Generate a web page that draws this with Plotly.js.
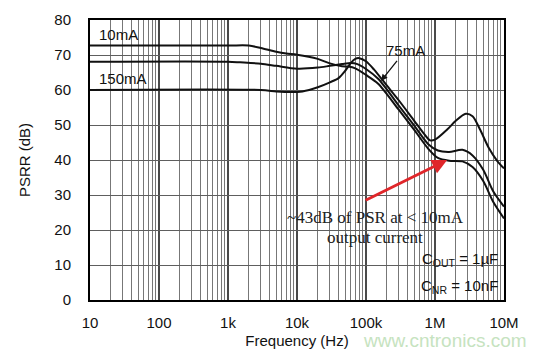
<!DOCTYPE html>
<html>
<head>
<meta charset="utf-8">
<script src="https://cdn.plot.ly/plotly-3.0.1.min.js"></script>
<style>
  html, body { margin: 0; padding: 0; background: #ffffff; }
  #chart { width: 550px; height: 356px; }
</style>
</head>
<body>
<div id="chart"></div>
<script>
// ---- data ----
const freq10 = [10, 1000, 2000, 3000, 5000, 7000, 10000, 20000, 30000, 45000, 55000, 70000, 100000, 150000, 300000, 500000, 800000, 1100000, 1600000, 2500000, 3500000, 5000000, 7000000, 10000000];
const psrr10 = [72.7, 72.7, 72.7, 72.0, 70.9, 70.4, 70.1, 68.9, 67.6, 66.8, 66.7, 66.2, 64.3, 61.8, 54.3, 48.6, 43.2, 40.6, 39.8, 39.6, 38.0, 34.0, 28.0, 23.3];

const freq75 = [10, 1000, 1500, 3000, 5000, 10000, 20000, 30000, 45000, 60000, 75000, 100000, 150000, 300000, 500000, 800000, 1100000, 1600000, 2500000, 3500000, 5000000, 7000000, 10000000];
const psrr75 = [68.1, 68.1, 67.9, 67.5, 66.9, 66.1, 66.4, 66.9, 67.4, 67.7, 67.4, 66.0, 63.2, 55.5, 49.8, 44.5, 42.7, 42.3, 42.9, 41.3, 37.2, 31.0, 26.7];

const freq150 = [10, 3000, 5000, 8000, 12000, 20000, 30000, 40000, 50000, 60000, 70000, 80000, 100000, 130000, 200000, 300000, 500000, 700000, 850000, 1000000, 1500000, 2000000, 2800000, 3500000, 4500000, 6000000, 8000000, 10000000];
const psrr150 = [60, 60, 59.6, 59.4, 59.6, 60.8, 62.2, 63.4, 65.5, 67.7, 68.9, 69.1, 68.2, 65.9, 61.3, 57.0, 51.2, 47.4, 45.6, 45.8, 48.7, 51.2, 53.2, 52.5, 48.7, 43.5, 39.7, 37.6];

const seriesNames = ["10mA", "75mA", "150mA"];
const xTickVals = [10, 100, 1000, 10000, 100000, 1000000, 10000000];
const xTickText = ["10", "100", "1k", "10k", "100k", "1M", "10M"];
const yTickVals = [0, 10, 20, 30, 40, 50, 60, 70, 80];

// minor (2..9) positions per decade
const minorVals = [];
for (let d = 1; d < 7; d++) {
  for (let m = 2; m <= 9; m++) minorVals.push(m * Math.pow(10, d));
}

const lineStyle = { color: "#111111", width: 2, shape: "spline", smoothing: 0.8 };
const traces = [
  { x: freq10, y: psrr10, name: seriesNames[0], mode: "lines", line: lineStyle },
  { x: freq75, y: psrr75, name: seriesNames[1], mode: "lines", line: lineStyle },
  { x: freq150, y: psrr150, name: seriesNames[2], mode: "lines", line: lineStyle }
];

const sans = "Liberation Sans, Arial, sans-serif";
const serif = "Liberation Serif, Times New Roman, serif";

const layout = {
  width: 550, height: 356,
  margin: { l: 90, r: 46, t: 20, b: 56 },
  paper_bgcolor: "#ffffff",
  plot_bgcolor: "#ffffff",
  showlegend: false,
  font: { family: sans, size: 15, color: "#111111" },
  xaxis: {
    type: "log",
    range: [1, 7],
    tickmode: "array",
    tickvals: xTickVals,
    ticktext: xTickText,
    ticks: "",
    ticklabelstandoff: 8,
    showgrid: true,
    gridcolor: "#4a4a4a",
    gridwidth: 2,
    showline: true,
    linecolor: "#000000",
    linewidth: 2,
    mirror: true,
    zeroline: false,
    minor: { tickvals: minorVals, showgrid: true, gridcolor: "#777777", gridwidth: 1, ticks: "" },
    title: { text: "Frequency (Hz)", font: { family: sans, size: 15 }, standoff: 5 }
  },
  yaxis: {
    range: [0, 80],
    tickmode: "array",
    tickvals: yTickVals,
    ticks: "",
    ticklabelstandoff: 14,
    showgrid: true,
    gridcolor: "#5e5e5e",
    gridwidth: 1,
    showline: true,
    linecolor: "#000000",
    linewidth: 2,
    mirror: true,
    zeroline: false,
    title: { text: "PSRR (dB)", font: { family: sans, size: 15 }, standoff: 20 }
  },
  shapes: [
    { type: "rect", xref: "paper", yref: "paper", layer: "between",
      x0: 0.783, x1: 0.995, y0: 0.015, y1: 0.19,
      fillcolor: "#ffffff", line: { width: 0 } }
  ],
  annotations: [
    { text: "10mA", xref: "paper", yref: "paper", x: 0.017, y: 0.947, xanchor: "left", yanchor: "middle", showarrow: false, font: { family: sans, size: 15 } },
    { text: "150mA", xref: "paper", yref: "paper", x: 0.017, y: 0.79, xanchor: "left", yanchor: "middle", showarrow: false, font: { family: sans, size: 15 } },
    { text: "75mA", xref: "x", yref: "y", x: Math.log10(165000), y: 62.6, ax: 24, ay: -30,
      showarrow: true, arrowhead: 2, arrowsize: 1, arrowwidth: 1.3, arrowcolor: "#111111", font: { family: sans, size: 15 } },
    { text: " ", xref: "x", yref: "y", x: Math.log10(1500000), y: 40.0, ax: -85, ay: 42,
      showarrow: true, arrowhead: 2, arrowsize: 1, arrowwidth: 3, arrowcolor: "#e0262a" },
    { text: "~43dB of PSR at < 10mA", xref: "paper", yref: "paper", x: 0.689, y: 0.296, xanchor: "center", yanchor: "middle", showarrow: false, font: { family: serif, size: 17, color: "#222222" } },
    { text: "output current", xref: "paper", yref: "paper", x: 0.689, y: 0.225, xanchor: "center", yanchor: "middle", showarrow: false, font: { family: serif, size: 17, color: "#222222" } },
    { text: "C<sub>OUT</sub> = 1µF", xref: "paper", yref: "paper", x: 0.99, y: 0.143, xanchor: "right", yanchor: "middle", showarrow: false, font: { family: sans, size: 15 } },
    { text: "C<sub>NR</sub> = 10nF", xref: "paper", yref: "paper", x: 0.99, y: 0.05, xanchor: "right", yanchor: "middle", showarrow: false, font: { family: sans, size: 15 } },
    { text: "www.cntronics.com", xref: "paper", yref: "paper", x: 1.06, y: -0.143, xanchor: "right", yanchor: "middle", showarrow: false, font: { family: sans, size: 19, color: "#c6e3c0" } }
  ]
};

Plotly.newPlot("chart", traces, layout, { displayModeBar: false, staticPlot: true });
</script>
</body>
</html>
